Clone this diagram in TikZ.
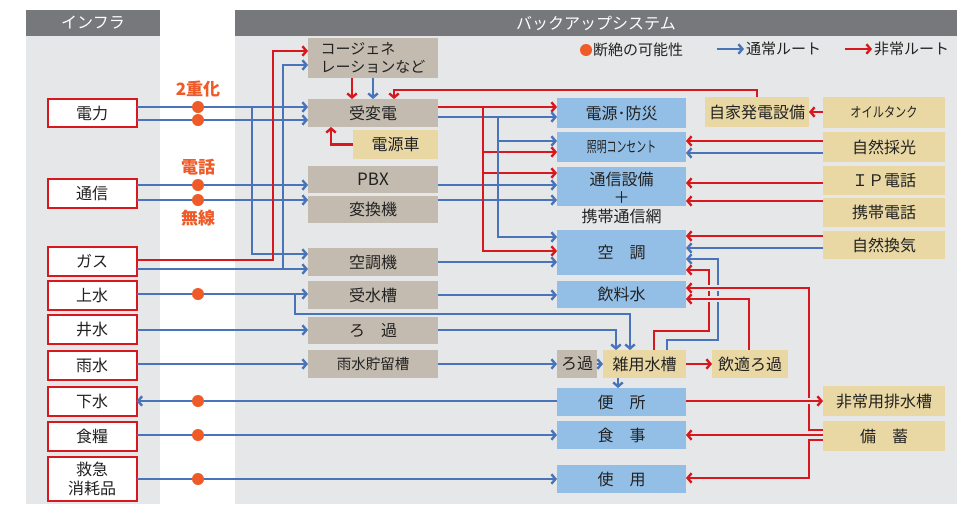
\documentclass[tikz,border=0pt]{standalone}
\usepackage{fontspec}
\setmainfont{Noto Sans CJK JP}
\usetikzlibrary{arrows.meta}
\definecolor{hdr}{HTML}{77787B}
\definecolor{pnl}{HTML}{E6E7E8}
\definecolor{taupe}{HTML}{C3BBAF}
\definecolor{ylw}{HTML}{E9D8A4}
\definecolor{bbox}{HTML}{93BFE6}
\definecolor{lblue}{HTML}{4A74B9}
\definecolor{lred}{HTML}{D7191F}
\definecolor{dotc}{HTML}{EF5A29}
\definecolor{txt}{HTML}{222222}
\tikzset{
 base/.style={inner sep=0pt, outer sep=0pt, text=txt, font=\fontsize{16}{18}\selectfont},
 infra/.style={base, draw=lred, line width=2pt, fill=white, minimum width=89pt},
 tbox/.style={base, fill=taupe, minimum width=130pt},
 ybox/.style={base, fill=ylw},
 bbx/.style={base, fill=bbox, minimum width=129pt},
 rbox/.style={base, fill=ylw, minimum width=122pt},
 bl/.style={draw=lblue, line width=2.1pt},
 rd/.style={draw=lred, line width=2.1pt},
 arr/.style={-{Straight Barb[length=4pt,width=9.5pt,line width=2.4pt]}},
 dot/.style={fill=dotc, circle, inner sep=0pt, minimum size=12pt},
 gap/.style={preaction={draw=pnl, line width=5.5pt, -}},
 lbl/.style={inner sep=0pt, text=dotc, font=\bfseries\fontsize{17}{17}\selectfont},
 hdrtxt/.style={inner sep=0pt, text=white, font=\fontsize{16}{16}\selectfont},
 lgtxt/.style={base, anchor=west, font=\fontsize{15}{15}\selectfont},
}
\begin{document}
\begin{tikzpicture}[x=1pt,y=-1pt]
\useasboundingbox (0,0) rectangle (976,504);
\fill[white] (0,0) rectangle (976,504);
% panels
\fill[hdr] (26,10) rectangle (160,36);
\fill[pnl] (26,36) rectangle (160,504);
\fill[hdr] (235,10) rectangle (957,36);
\fill[pnl] (235,36) rectangle (957,504);
\node[hdrtxt] (h1) at (93,23) {インフラ};
\node[hdrtxt] (h2) at (596,23) {バックアップシステム};
% legend
\node[dot] (lgd) at (586,50) {};
\node[lgtxt] (lgt1) at (593,50) {断絶の可能性};
\coordinate (lbs) at (717,49);
\node[lgtxt] (lgt2) at (746,49) {通常ルート};
\coordinate (lrs) at (845,49);
\node[lgtxt] (lgt3) at (874,49) {非常ルート};
\draw[bl,arr,shorten >=2pt] (lbs) -- (lgt2.west);
\draw[rd,arr,shorten >=2pt] (lrs) -- (lgt3.west);
% infra boxes
\node[infra, minimum height=28pt] (pw) at (92,113) {電力};
\node[infra, minimum height=29pt] (tc) at (92,193) {通信};
\node[infra, minimum height=29pt] (gas) at (92,261.5) {ガス};
\node[infra, minimum height=29pt] (jw) at (92,295.5) {上水};
\node[infra, minimum height=29pt] (iw) at (92,329.5) {井水};
\node[infra, minimum height=29pt] (uw) at (92,365) {雨水};
\node[infra, minimum height=29pt] (gw) at (92,401.5) {下水};
\node[infra, minimum height=29pt] (sk) at (92,436.5) {食糧};
\node[infra, minimum height=44pt, align=center, font=\fontsize{16}{19}\selectfont] (kk) at (92,479) {救急\\消耗品};
% taupe boxes
\node[tbox, minimum height=40pt, align=left, font=\fontsize{15}{18}\selectfont] (cg) at (373,58) {コージェネ\\レーションなど};
\node[tbox, minimum height=28pt] (jh) at (373,113) {受変電};
\node[ybox, minimum width=85pt, minimum height=29pt] (dg) at (395.5,144.5) {電源車};
\node[tbox, minimum height=27pt, font=\fontsize{17}{17}\selectfont] (pbx) at (373,179.5) {PBX};
\node[tbox, minimum height=27pt] (hk) at (373,209.5) {変換機};
\node[tbox, minimum height=28pt] (ac) at (373,262) {空調機};
\node[tbox, minimum height=28pt] (js) at (373,295) {受水槽};
\node[tbox, minimum height=27pt] (rk) at (373,330.5) {ろ　過};
\node[tbox, minimum height=28pt, font=\fontsize{14.5}{14.5}\selectfont] (us) at (373,364) {雨水貯留槽};
% blue boxes
\node[bbx, minimum height=30pt] (ds) at (621.5,113) {電源･防災};
\node[bbx, minimum height=30pt, font=\fontsize{15}{15}\selectfont] (sm) at (621.5,147) {\scalebox{0.66}[1]{照明コンセント}};
\node[bbx, minimum height=39pt] (ts) at (621.5,186.5) {};
\node[base, align=center, font=\fontsize{16}{18.5}\selectfont] (tst) at (621.5,197.5) {通信設備\\＋\\携帯通信網};
\node[bbx, minimum height=45pt] (ku) at (621.5,252.5) {空　調};
\node[bbx, minimum height=27pt] (in) at (621.5,294.5) {飲料水};
\node[tbox, minimum width=40pt, minimum height=28pt] (rk2) at (577,364) {ろ過};
\node[ybox, minimum width=83pt, minimum height=28pt] (zs) at (644.5,364) {雑用水槽};
\node[ybox, minimum width=76pt, minimum height=28pt] (ir) at (750,364) {飲適ろ過};
\node[bbx, minimum height=28pt] (be) at (621.5,402) {便　所};
\node[bbx, minimum height=28pt] (sj) at (621.5,435) {食　事};
\node[bbx, minimum height=28pt] (sy) at (621.5,479) {使　用};
% right boxes
\node[ybox, minimum width=104pt, minimum height=30pt] (jk) at (757,112) {自家発電設備};
\node[rbox, minimum height=31pt, font=\fontsize{14}{14}\selectfont] (ot) at (884,112.5) {\scalebox{0.8}[1]{オイルタンク}};
\node[rbox, minimum height=30pt] (ss) at (884,147) {自然採光};
\node[rbox, minimum height=29pt] (ip) at (884,180.5) {ＩＰ電話};
\node[rbox, minimum height=29pt] (kd) at (884,212.5) {携帯電話};
\node[rbox, minimum height=28pt] (sk2) at (884,245) {自然換気};
\node[rbox, minimum height=30pt] (hh) at (884,401) {非常用排水槽};
\node[rbox, minimum height=30pt] (bc) at (884,436) {備　蓄};
% infra connectors
\draw[bl,arr] ([yshift=6pt]pw.east) -- ([yshift=6pt]jh.west);
\draw[bl,arr] ([yshift=-7pt]pw.east) -- ([yshift=-7pt]jh.west);
\draw[bl,arr] (252,107) -- (252,254) -- ([yshift=8pt]ac.west);
\draw[bl,arr] ([yshift=8pt]tc.east) -- ([yshift=-5.5pt]pbx.west);
\draw[bl,arr] ([yshift=-5.5pt]pbx.east) -- ([yshift=1.5pt]ts.west);
\draw[bl,arr] ([yshift=-7pt]tc.east) -- ([yshift=9.5pt]hk.west);
\draw[bl,arr] ([yshift=9.5pt]hk.east) -- ([yshift=-13.5pt]ts.west);
\draw[rd,arr] ([yshift=1.5pt]gas.east) -- (273,260) -- (273,51) -- ([yshift=7pt]cg.west);
\draw[bl,arr] ([yshift=-7.5pt]gas.east) -- ([yshift=-7pt]ac.west);
\draw[bl,arr] (283,269) -- (283,65) -- ([yshift=-7pt]cg.west);
\draw[bl,arr] ([yshift=1.5pt]jw.east) -- ([yshift=1pt]js.west);
\draw[bl,arr] (295,294) -- (295,314) -- (630,314) -- ([xshift=-14.5pt]zs.north);
\draw[bl,arr] ([yshift=-0.5pt]iw.east) -- ([yshift=0.5pt]rk.west);
\draw[bl,arr] ([yshift=0.5pt]rk.east) -- (616,330) -- ([xshift=-28.5pt]zs.north);
\draw[bl,arr] ([yshift=1pt]uw.east) -- (us.west);
\draw[bl,arr] (us.east) -- (rk2.west);
\draw[bl,arr] (rk2.east) -- (zs.west);
\draw[bl,arr] ([yshift=1pt]be.west) -- ([yshift=0.5pt]gw.east);
\draw[bl,arr] ([yshift=1.5pt]sk.east) -- (sj.west);
\draw[bl,arr] (kk.east) -- (sy.west);
% middle connectors
\draw[rd,arr] ([xshift=-21pt]cg.south) -- ([xshift=-21pt]jh.north);
\draw[bl,arr] (cg.south) -- (jh.north);
\draw[rd,arr] (jk.north) -- (757,90) -- (394,90) -- ([xshift=21pt]jh.north);
\draw[rd,arr] (dg.west) -- (331,144.5) -- ([xshift=-42pt]jh.south);
\draw[rd,arr] ([yshift=6pt]jh.east) -- ([yshift=6pt]ds.west);
\draw[bl,arr] ([yshift=-4pt]jh.east) -- ([yshift=-4pt]ds.west);
\draw[rd,arr] (483,107) -- (483,251) -- ([yshift=1.5pt]ku.west);
\draw[rd,arr] (483,152) -- ([yshift=-5pt]sm.west);
\draw[rd,arr] (483,173) -- ([yshift=13.5pt]ts.west);
\draw[bl,arr] (498,117) -- (498,237) -- ([yshift=15.5pt]ku.west);
\draw[bl,arr] (498,141) -- ([yshift=6pt]sm.west);
\draw[bl,arr] (ac.east) -- ([yshift=-9.5pt]ku.west);
\draw[bl,arr] (js.east) -- ([yshift=-0.5pt]in.west);
\draw[bl,arr] ([xshift=-26.5pt]zs.south) -- ([xshift=-3.5pt]be.north);
\draw[rd,arr] (zs.east) -- (ir.west);
% right connectors
\draw[rd,arr] ([yshift=0.5pt]ot.west) -- (jk.east);
\draw[rd,arr] ([yshift=6pt]ss.west) -- ([yshift=6pt]sm.east);
\draw[bl,arr] ([yshift=-6pt]ss.west) -- ([yshift=-6pt]sm.east);
\draw[rd,arr] ([yshift=-2.5pt]ip.west) -- ([yshift=3.5pt]ts.east);
\draw[rd,arr] ([yshift=11.5pt]kd.west) -- ([yshift=-14.5pt]ts.east);
\draw[rd,arr] ([yshift=9pt]sk2.west) -- ([yshift=16.5pt]ku.east);
\draw[bl,arr] ([yshift=-3pt]sk2.west) -- ([yshift=4.5pt]ku.east);
\draw[rd,arr] ([xshift=9.5pt]zs.north) -- (654,331) -- (709,331) -- (709,270) -- ([yshift=-17.5pt]ku.east);
\draw[bl,arr] ([xshift=22.5pt]zs.north) -- (667,340) -- (718,340) -- (718,259) -- ([yshift=-6.5pt]ku.east);
\draw[rd,arr,gap] ([yshift=6pt]bc.west) -- (809,430) -- (809,288) -- ([yshift=6.5pt]in.east);
\draw[rd,arr,gap] ([xshift=-1pt]ir.north) -- (749,299) -- ([yshift=-4.5pt]in.east);
\draw[rd,arr] ([yshift=1pt]bc.west) -- (sj.east);
\draw[rd,arr] ([yshift=-4pt]bc.west) -- (809,440) -- (809,478) -- ([yshift=1pt]sy.east);
\draw[rd,arr,gap] ([yshift=1pt]be.east) -- (hh.west);
% dots
\node[dot] (d1) at (198,107) {};
\node[dot] (d2) at (198,120) {};
\node[dot] (d3) at (198,185) {};
\node[dot] (d4) at (198,200) {};
\node[dot] (d5) at (198,294) {};
\node[dot] (d6) at (198,401) {};
\node[dot] (d7) at (198,435) {};
\node[dot] (d8) at (198,479) {};
% orange labels
\node[lbl] (l1) at (198,89) {2重化};
\node[lbl] (l2) at (198,167) {電話};
\node[lbl] (l3) at (198,218) {無線};
\end{tikzpicture}
\end{document}
